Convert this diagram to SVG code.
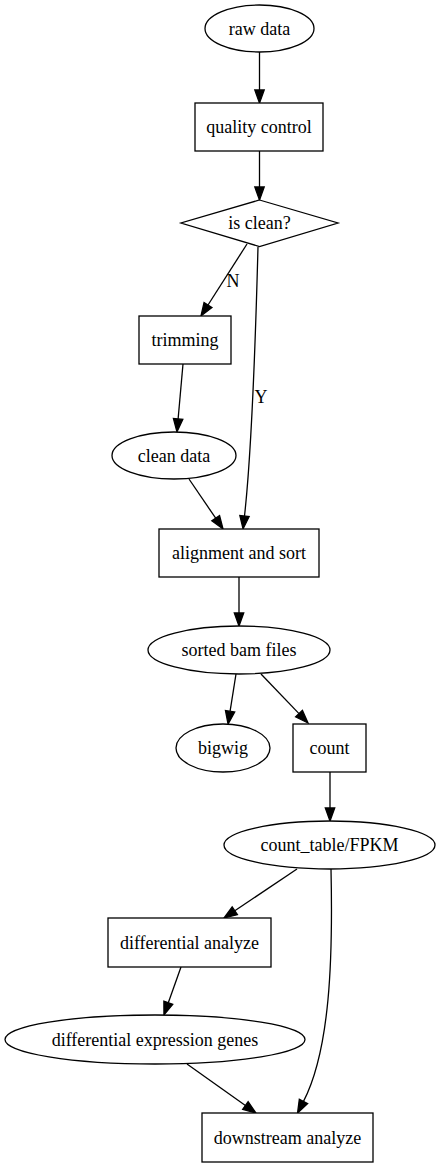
<svg xmlns="http://www.w3.org/2000/svg" width="440" height="1167" viewBox="0 0 440 1167">
<style>
.n{fill:#fff;stroke:#000;stroke-width:1.3}
.t{font-family:"Liberation Serif","Times New Roman",serif;font-size:18px;fill:#000;text-anchor:middle}
.e{fill:none;stroke:#000;stroke-width:1.3;marker-end:url(#arr)}
</style>
<defs>
<marker id="arr" markerUnits="userSpaceOnUse" markerWidth="14" markerHeight="10" refX="0" refY="4.7" orient="auto" overflow="visible">
<path d="M0,0 L13,4.7 L0,9.4 Z" fill="#000" stroke="#000" stroke-width="1.3"/>
</marker>
</defs>
<rect width="440" height="1167" fill="#fff"/>
<g id="edges">
<path class="e" d="M259.5,52 L259.5,90"/>
<path class="e" d="M259.5,151 L259.5,187"/>
<path class="e" d="M247,244 L208,305"/>
<text class="t" x="233" y="287">N</text>
<path class="e" d="M258,247 C256,320 253,440 244.5,516"/>
<text class="t" x="261" y="403">Y</text>
<path class="e" d="M183,364 L178.1,419"/>
<path class="e" d="M189,479 L215.7,518.2"/>
<path class="e" d="M239,577 L239,613"/>
<path class="e" d="M236,674 L230.1,711.2"/>
<path class="e" d="M261,674 L299,713.6"/>
<path class="e" d="M330,772 L330,808"/>
<path class="e" d="M297,869 L234.8,910.8"/>
<path class="e" d="M331,869 C333,960 330,1050 303.5,1101.4"/>
<path class="e" d="M181,967 L168.3,1002.7"/>
<path class="e" d="M187,1064 L245.4,1105.5"/>
</g>
<g id="raw_data"><ellipse class="n" cx="259.5" cy="28.5" rx="54.5" ry="23.5"/><text class="t" x="259.5" y="34.5">raw data</text></g>
<g id="quality_control"><rect class="n" x="195" y="103" width="128" height="48"/><text class="t" x="259" y="133">quality control</text></g>
<g id="is_clean"><polygon class="n" points="259.5,200 338,223 259.5,246.5 181,223"/><text class="t" x="259.5" y="229">is clean?</text></g>
<g id="trimming"><rect class="n" x="139" y="316" width="92" height="48"/><text class="t" x="185" y="346">trimming</text></g>
<g id="clean_data"><ellipse class="n" cx="174" cy="455.5" rx="62" ry="23.5"/><text class="t" x="174" y="461.5">clean data</text></g>
<g id="alignment_and_sort"><rect class="n" x="159" y="529" width="160" height="48"/><text class="t" x="239" y="559">alignment and sort</text></g>
<g id="sorted_bam_files"><ellipse class="n" cx="239" cy="650" rx="91" ry="24"/><text class="t" x="239" y="656">sorted bam files</text></g>
<g id="bigwig"><ellipse class="n" cx="223" cy="748" rx="47" ry="24"/><text class="t" x="223" y="754">bigwig</text></g>
<g id="count"><rect class="n" x="293" y="724" width="73" height="48"/><text class="t" x="329.5" y="754">count</text></g>
<g id="count_table"><ellipse class="n" cx="329.5" cy="845" rx="105.5" ry="24"/><text class="t" x="329.5" y="851">count_table/FPKM</text></g>
<g id="differential_analyze"><rect class="n" x="108" y="918" width="163" height="49"/><text class="t" x="189.5" y="948.5">differential analyze</text></g>
<g id="deg"><ellipse class="n" cx="155" cy="1039.5" rx="150" ry="24.5"/><text class="t" x="155" y="1045.5">differential expression genes</text></g>
<g id="downstream_analyze"><rect class="n" x="202" y="1113" width="171" height="49"/><text class="t" x="287.5" y="1143.5">downstream analyze</text></g>
</svg>
